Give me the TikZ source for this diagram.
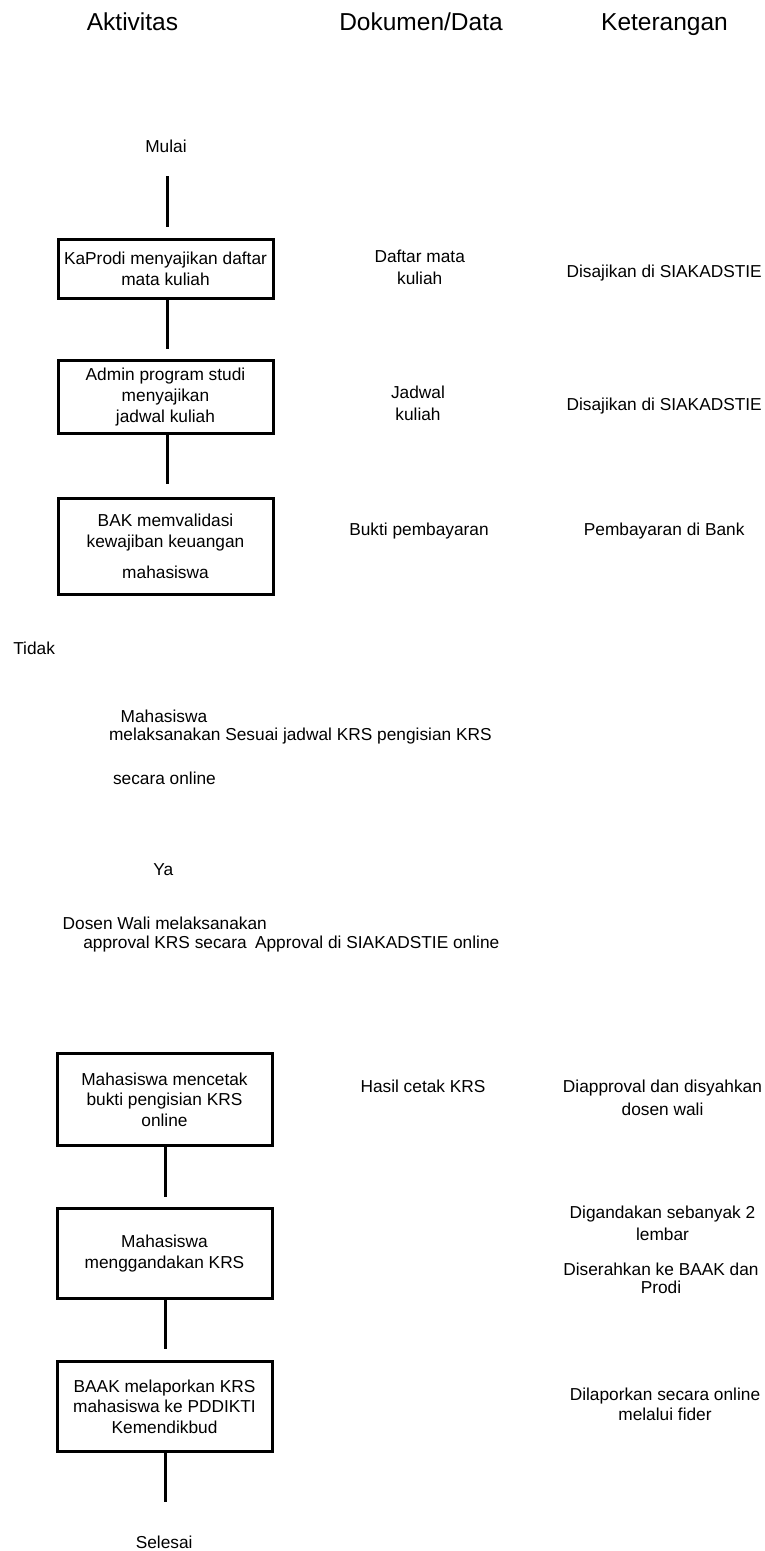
\documentclass[tikz,border=0pt]{standalone}
\usepackage{fontspec}
\setmainfont{Liberation Sans}
\begin{document}
\begin{tikzpicture}[x=1pt,y=-1pt,
  every node/.style={inner sep=0pt,outer sep=0pt},
  head/.style={font=\fontsize{24.5}{29}\selectfont,anchor=base},
  txt/.style={font=\fontsize{17.3}{20.8}\selectfont,anchor=base},
  ltxt/.style={font=\fontsize{17.3}{20.8}\selectfont,anchor=base west},
  mtxt/.style={font=\fontsize{17.3}{#1}\selectfont,anchor=north,align=center},
  box/.style={font=\fontsize{17.3}{20.8}\selectfont,draw,line width=3pt,
              minimum width=215pt,align=center,outer sep=1.5pt},
  conn/.style={line width=3pt}
]
\useasboundingbox (0,0) rectangle (765,1551);

% headers
\node[head] (h1) at (132.5,30) {Aktivitas};
\node[head] (h2) at (421,30) {Dokumen/Data};
\node[head] (h3) at (664.5,30) {Keterangan};

% activity column
\node[txt] (mulai) at (166,152) {Mulai};
\node[box,minimum height=59.3pt] (b1) at (165.5,268.85) {KaProdi menyajikan daftar\\mata kuliah};
\node[box,minimum height=72.7pt] (b2) at (165.5,397.15) {Admin program studi\\menyajikan\\jadwal kuliah};
\node[box,minimum height=96.3pt] (b3) at (165.5,546.35) {BAK memvalidasi\\kewajiban keuangan\\[9.6pt]mahasiswa};

\node[ltxt] (tidak) at (13.3,654) {Tidak};
\node[ltxt] (m1) at (120.7,722) {Mahasiswa};
\node[ltxt] (m2) at (109,740) {melaksanakan Sesuai jadwal KRS pengisian KRS};
\node[ltxt] (m3) at (113,784) {secara online};
\node[ltxt] (ya) at (153.3,875) {Ya};
\node[ltxt] (w1) at (62.7,929.3) {Dosen Wali melaksanakan};
\node[ltxt] (w2) at (83.3,948) {approval KRS secara\hspace{3.5pt} Approval di SIAKADSTIE online};

\node[box,minimum height=92pt] (b4) at (164.5,1099.8) {Mahasiswa mencetak\\bukti pengisian KRS\\online};
\node[box,minimum height=90.3pt] (b5) at (164.5,1253.35) {Mahasiswa\\menggandakan KRS};
\node[box,minimum height=90.3pt] (b6) at (164.5,1406.65) {BAAK melaporkan KRS\\mahasiswa ke PDDIKTI\\Kemendikbud};
\node[txt] (selesai) at (164.2,1548.3) {Selesai};

% connectors
\draw[conn,shorten <=24pt,shorten >=11pt] ([xshift=1.8pt]b1.north |- mulai.south) -- ([xshift=1.8pt]b1.north);
\draw[conn,shorten >=10.6pt] ([xshift=1.8pt]b1.south) -- ([xshift=1.8pt]b2.north);
\draw[conn,shorten >=12.4pt] ([xshift=1.8pt]b2.south) -- ([xshift=1.8pt]b3.north);
\draw[conn,shorten >=10pt] ([xshift=0.8pt]b4.south) -- ([xshift=0.8pt]b5.north);
\draw[conn,shorten >=11pt] ([xshift=0.8pt]b5.south) -- ([xshift=0.8pt]b6.north);
\draw[conn,shorten >=34.2pt] ([xshift=0.8pt]b6.south) -- ([xshift=0.8pt]b6.south |- selesai.north);

% document column
\node[mtxt=22.5pt] (d1) at (419.7,249.9) {Daftar mata\\kuliah};
\node[mtxt=21.7pt] (d2) at (418,385.9) {Jadwal\\kuliah};
\node[txt] (d3) at (419,535) {Bukti pembayaran};
\node[txt] (d4) at (423,1092.7) {Hasil cetak KRS};

% keterangan column
\node[txt] (k1) at (664.2,277.3) {Disajikan di SIAKADSTIE};
\node[txt] (k2) at (664.2,410) {Disajikan di SIAKADSTIE};
\node[txt] (k3) at (664.2,535) {Pembayaran di Bank};
\node[mtxt=22.3pt] (k4) at (662.5,1080.3) {Diapproval dan disyahkan\\dosen wali};
\node[mtxt=22.4pt] (k5) at (662.5,1205.9) {Digandakan sebanyak 2\\lembar};
\node[mtxt=18.3pt] (k6) at (661,1262.6) {Diserahkan ke BAAK dan\\Prodi};
\node[mtxt=20pt] (k7) at (665,1387.6) {Dilaporkan secara online\\melalui fider};
\end{tikzpicture}
\end{document}
